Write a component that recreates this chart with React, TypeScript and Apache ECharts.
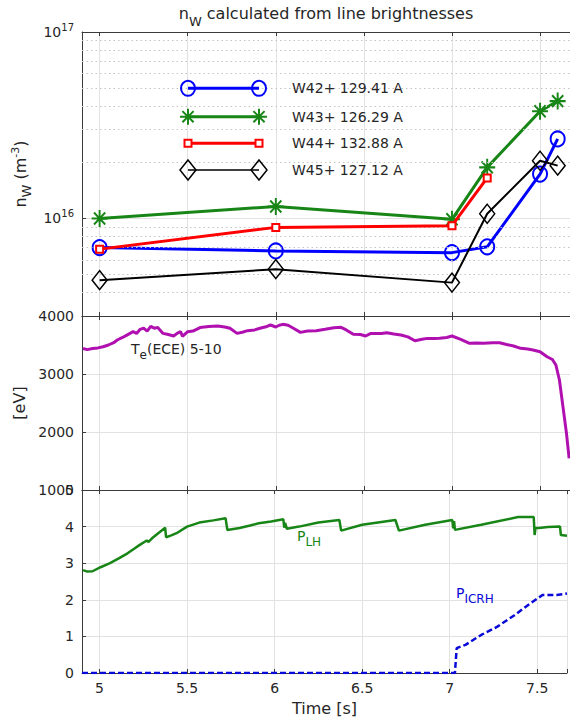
import React, { useEffect, useRef } from 'react';
import * as echarts from 'echarts';

// ---------------- data ----------------
const nwTime = [5.0, 6.0, 7.0, 7.2, 7.5, 7.6];
const nwW42 = [6.98e15, 6.7e15, 6.56e15, 7.05e15, 1.73e16, 2.67e16];
const nwW43 = [1.0e16, 1.16e16, 0.99e16, 1.88e16, 3.76e16, 4.26e16];
const nwW44 = [6.85e15, 8.96e15, 9.15e15, 1.65e16, null, null];
const nwW45 = [4.67e15, 5.35e15, 4.53e15, 1.06e16, 2.04e16, 1.92e16];
const legendLabels = ['W42+ 129.41 A', 'W43+ 126.29 A', 'W44+ 132.88 A', 'W45+ 127.12 A'];
const minorLogGrid = [4e15, 5e15, 6e15, 7e15, 8e15, 9e15, 2e16, 3e16, 4e16, 5e16, 6e16, 7e16, 8e16, 9e16];

const teTime = [4.906, 4.93, 4.96, 4.99, 5.02, 5.05, 5.08, 5.1, 5.13, 5.16, 5.19, 5.21, 5.23, 5.25, 5.27, 5.29, 5.31, 5.33, 5.36, 5.39, 5.42, 5.44, 5.46, 5.47, 5.5, 5.53, 5.57, 5.62, 5.67, 5.71, 5.74, 5.78, 5.81, 5.84, 5.88, 5.91, 5.95, 5.97, 6.0, 6.02, 6.04, 6.07, 6.1, 6.14, 6.18, 6.23, 6.28, 6.33, 6.37, 6.4, 6.44, 6.48, 6.51, 6.54, 6.6, 6.63, 6.67, 6.71, 6.75, 6.79, 6.83, 6.86, 6.9, 6.93, 6.97, 7.0, 7.05, 7.1, 7.14, 7.18, 7.23, 7.27, 7.31, 7.35, 7.39, 7.43, 7.46, 7.5, 7.54, 7.57, 7.59, 7.61, 7.63, 7.65, 7.665];
const teValue = [3440, 3420, 3440, 3450, 3470, 3500, 3540, 3586, 3630, 3680, 3730, 3700, 3770, 3790, 3740, 3820, 3790, 3800, 3700, 3680, 3655, 3700, 3730, 3650, 3730, 3740, 3800, 3820, 3828, 3810, 3788, 3700, 3720, 3747, 3760, 3788, 3820, 3845, 3810, 3840, 3856, 3840, 3788, 3718, 3740, 3747, 3770, 3798, 3805, 3760, 3684, 3680, 3655, 3700, 3700, 3710, 3690, 3672, 3640, 3574, 3600, 3614, 3610, 3615, 3630, 3655, 3598, 3529, 3535, 3530, 3540, 3540, 3510, 3483, 3442, 3430, 3414, 3385, 3298, 3250, 3155, 2897, 2437, 1977, 1546];

const plhTime = [4.906, 4.93, 4.96, 5.006, 5.06, 5.11, 5.16, 5.2, 5.23, 5.27, 5.28, 5.3, 5.33, 5.375, 5.38, 5.41, 5.44, 5.5, 5.57, 5.65, 5.72, 5.73, 5.8, 5.86, 5.91, 5.98, 6.05, 6.055, 6.06, 6.07, 6.14, 6.25, 6.37, 6.38, 6.5, 6.69, 6.71, 6.86, 7.015, 7.02, 7.025, 7.03, 7.18, 7.39, 7.48, 7.485, 7.49, 7.51, 7.56, 7.63, 7.635, 7.67];
const plhValue = [2.81, 2.77, 2.78, 2.89, 3.0, 3.13, 3.27, 3.4, 3.5, 3.62, 3.58, 3.68, 3.8, 3.97, 3.71, 3.76, 3.82, 4.0, 4.11, 4.17, 4.23, 3.91, 3.96, 4.03, 4.09, 4.14, 4.2, 3.97, 4.1, 3.94, 4.0, 4.11, 4.18, 3.89, 4.05, 4.18, 3.89, 4.05, 4.18, 3.95, 4.15, 3.91, 4.05, 4.26, 4.26, 3.77, 3.96, 3.96, 3.99, 4.0, 3.77, 3.75];

const icrhTime = [4.9, 7.03, 7.035, 7.04, 7.09, 7.18, 7.27, 7.37, 7.46, 7.53, 7.61, 7.67];
const icrhValue = [0, 0, 0.35, 0.68, 0.77, 1.04, 1.26, 1.58, 1.9, 2.13, 2.13, 2.17];

// ---------------- styling ----------------
const FONT = 'DejaVu Sans';
const TXT = '#262626';
const AX = '#3a3a3a';
const GRID = '#e2e2e2';
const BLUE = '#0000ff';
const GREEN = '#178617';
const RED = '#ff0000';
const BLACK = '#000000';
const MAGENTA = '#b010b0';
const ICRH = '#0a0ad8';
const X_MIN = 4.9;
const X_MAX = 7.67;
const PLOT_L = 82;
const PLOT_W = 488;

const ASTERISK = 'M0,-8L0,8M-8,0L8,0M-5.6,-5.6L5.6,5.6M-5.6,5.6L5.6,-5.6';
let registered = false;
function registerShapes() {
  if (registered) return;
  registered = true;
  echarts.graphic.registerShape('asterisk', echarts.graphic.extendPath(ASTERISK, {}));
}

const pairs = (t: number[], v: (number | null)[]) =>
  t.map((x, i) => [x, v[i]]).filter((p) => p[1] !== null);

const xFmt = (v: number) => (Math.abs(v * 2 - Math.round(v * 2)) < 1e-6 ? String(+v.toFixed(1)) : '');
const yFmt = (v: number) => String(v);

function xAxis(grid: number, position: 'top' | 'bottom', labels: boolean, name?: string) {
  return {
    type: 'value',
    gridIndex: grid,
    position,
    min: X_MIN,
    max: X_MAX,
    axisLine: { show: true, onZero: false, lineStyle: { color: AX, width: 1 } },
    axisTick: { show: true, inside: true, length: 4, lineStyle: { color: AX } },
    axisLabel: { show: labels, formatter: xFmt, color: TXT, fontSize: 14, fontFamily: FONT, margin: 8 },
    splitLine: { show: position === 'bottom', lineStyle: { color: GRID, width: 1 } },
    name: name || '',
    nameLocation: 'middle',
    nameGap: 27,
    nameTextStyle: { color: TXT, fontSize: 16, fontFamily: FONT },
  };
}

const yBase = {
  axisLine: { show: true, lineStyle: { color: AX, width: 1 } },
  axisTick: { show: true, inside: true, length: 4, lineStyle: { color: AX } },
  splitLine: { show: true, lineStyle: { color: GRID, width: 1 } },
  nameLocation: 'middle',
  nameRotate: 90,
};

const symbolSeries = (name: string, data: any[], color: string, lw: number, symbol: string, size: any, fill: string, bw: number, z: number) => ({
  name,
  type: 'line',
  xAxisIndex: 0,
  yAxisIndex: 0,
  data,
  symbol,
  symbolSize: size,
  showSymbol: true,
  z,
  lineStyle: { color, width: lw },
  itemStyle: { color: fill, borderColor: color, borderWidth: bw },
});

function legendGraphics() {
  const rows = [88.3, 116.7, 143.3, 170];
  const x0 = 188;
  const x1 = 259;
  const els: any[] = [];
  const colors = [BLUE, GREEN, RED, BLACK];
  const widths = [3, 3, 3, 1.6];
  rows.forEach((y, i) => {
    els.push({ type: 'line', shape: { x1: x0, y1: y, x2: x1, y2: y }, style: { stroke: colors[i], lineWidth: widths[i] }, z: 10 });
    [x0, x1].forEach((cx) => {
      if (i === 0) els.push({ type: 'ellipse', shape: { cx, cy: y, rx: 7, ry: 7.5 }, style: { fill: 'none', stroke: BLUE, lineWidth: 2 }, z: 11 });
      if (i === 1) els.push({ type: 'asterisk', x: cx, y, style: { fill: 'none', stroke: GREEN, lineWidth: 2 }, z: 11 });
      if (i === 2) els.push({ type: 'rect', shape: { x: cx - 3.5, y: y - 3.5, width: 7, height: 7 }, style: { fill: '#fff', stroke: RED, lineWidth: 2 }, z: 11 });
      if (i === 3) els.push({ type: 'polygon', shape: { points: [[cx, y - 10], [cx + 8, y], [cx, y + 10], [cx - 8, y]] }, style: { fill: 'none', stroke: BLACK, lineWidth: 1.5 }, z: 11 });
    });
    els.push({ type: 'text', x: 292, y, style: { text: legendLabels[i], fill: TXT, fontSize: 14, fontFamily: FONT, align: 'left', verticalAlign: 'middle' }, z: 11 });
  });
  return els;
}

const richMain = (fs: number) => ({ fontSize: fs, fontFamily: FONT, lineHeight: 18, verticalAlign: 'middle' });
const richSub = (fs: number, drop: number) => ({ fontSize: fs, fontFamily: FONT, lineHeight: 18, verticalAlign: 'middle', padding: [drop * 2, 0, 0, 0] });

function textWithSub(x: number, y: number, main: string, sub: string, rest: string, color: string) {
  return {
    type: 'text',
    x,
    y,
    z: 12,
    style: {
      text: `{m|${main}}{s|${sub}}` + (rest ? `{m|${rest}}` : ''),
      align: 'left',
      verticalAlign: 'middle',
      fill: color,
      rich: {
        m: { ...richMain(14), fill: color },
        s: { ...richSub(12, 6), fill: color },
      },
    },
  };
}

const option: any = {
  animation: false,
  backgroundColor: '#ffffff',
  textStyle: { fontFamily: FONT },
  grid: [
    { left: PLOT_L, top: 32, width: PLOT_W, height: 284 },
    { left: PLOT_L, top: 316, width: PLOT_W, height: 174 },
    { left: PLOT_L, top: 490, width: PLOT_W, height: 183 },
  ],
  xAxis: [
    xAxis(0, 'bottom', false),
    xAxis(0, 'top', false),
    xAxis(1, 'bottom', false),
    xAxis(1, 'top', false),
    xAxis(2, 'bottom', true, 'Time [s]'),
    xAxis(2, 'top', false),
  ],
  yAxis: [
    {
      ...yBase,
      type: 'log',
      logBase: 10,
      gridIndex: 0,
      min: 3e15,
      max: 1e17,
      axisLabel: {
        color: TXT,
        margin: 8,
        formatter: (v: number) => {
          const e = Math.log10(v);
          return Math.abs(e - Math.round(e)) < 1e-6 ? `{b|10}{s|${Math.round(e)}}` : '';
        },
        rich: {
          b: { fontSize: 14, fontFamily: FONT, color: TXT, lineHeight: 18, verticalAlign: 'middle' },
          s: { fontSize: 10, fontFamily: FONT, color: TXT, lineHeight: 18, verticalAlign: 'middle', padding: [0, 0, 9, 0] },
        },
      },
      name: '{m|n}{s|W}{m| (m}{p|-3}{m|)}',
      nameGap: 49,
      nameTextStyle: {
        color: TXT,
        rich: {
          m: { fontSize: 16, fontFamily: FONT, color: TXT, lineHeight: 20, verticalAlign: 'middle' },
          s: { fontSize: 13, fontFamily: FONT, color: TXT, lineHeight: 20, verticalAlign: 'middle', padding: [11, 0, 0, 0] },
          p: { fontSize: 11, fontFamily: FONT, color: TXT, lineHeight: 20, verticalAlign: 'middle', padding: [0, 0, 10, 0] },
        },
      },
    },
    {
      ...yBase,
      type: 'value',
      gridIndex: 1,
      min: 1000,
      max: 4000,
      interval: 1000,
      axisLabel: { color: TXT, fontSize: 14, fontFamily: FONT, margin: 8, formatter: yFmt, showMinLabel: true, showMaxLabel: true },
      name: '[eV]',
      nameGap: 46,
      nameTextStyle: { color: TXT, fontSize: 16, fontFamily: FONT },
    },
    {
      ...yBase,
      type: 'value',
      gridIndex: 2,
      min: 0,
      max: 5,
      interval: 1,
      axisLabel: { color: TXT, fontSize: 14, fontFamily: FONT, margin: 8, formatter: yFmt, showMinLabel: true, showMaxLabel: true },
    },
  ],
  series: [
    {
      type: 'line',
      xAxisIndex: 0,
      yAxisIndex: 0,
      data: [],
      z: 1,
      silent: true,
      markLine: {
        silent: true,
        symbol: ['none', 'none'],
        label: { show: false },
        lineStyle: { color: '#c4c4c4', width: 1, type: [1.5, 3] },
        data: minorLogGrid.map((v) => ({ yAxis: v })),
      },
    },
    symbolSeries('W42', pairs(nwTime, nwW42), BLUE, 3, 'circle', [14, 15], 'rgba(0,0,0,0)', 2, 3),
    symbolSeries('W43', pairs(nwTime, nwW43), GREEN, 3, 'path://' + ASTERISK, [16, 17], 'rgba(0,0,0,0)', 2, 4),
    symbolSeries('W44', pairs(nwTime, nwW44), RED, 3, 'rect', 7, '#ffffff', 2, 5),
    symbolSeries('W45', pairs(nwTime, nwW45), BLACK, 2, 'diamond', [15, 19], 'rgba(0,0,0,0)', 1.5, 6),
    {
      name: 'Te',
      type: 'line',
      xAxisIndex: 2,
      yAxisIndex: 1,
      data: pairs(teTime, teValue),
      showSymbol: false,
      lineStyle: { color: MAGENTA, width: 3 },
      z: 3,
    },
    {
      name: 'PLH',
      type: 'line',
      xAxisIndex: 4,
      yAxisIndex: 2,
      data: pairs(plhTime, plhValue),
      showSymbol: false,
      lineStyle: { color: GREEN, width: 2.5 },
      z: 3,
    },
    {
      name: 'PICRH',
      type: 'line',
      xAxisIndex: 4,
      yAxisIndex: 2,
      data: pairs(icrhTime, icrhValue),
      showSymbol: false,
      lineStyle: { color: ICRH, width: 2.5, type: [6, 3] },
      z: 4,
    },
  ],
  graphic: [
    {
      type: 'text',
      x: 326,
      y: 13,
      z: 12,
      style: {
        text: '{m|n}{s|W}{m| calculated from line brightnesses}',
        align: 'center',
        verticalAlign: 'middle',
        fill: TXT,
        rich: {
          m: { ...richMain(16), fill: TXT },
          s: { ...richSub(13, 8), fill: TXT },
        },
      },
    },
    ...legendGraphics(),
    textWithSub(131, 349, 'T', 'e', '(ECE) 5-10', TXT),
    textWithSub(297, 536, 'P', 'LH', '', GREEN),
    textWithSub(456, 593, 'P', 'ICRH', '', ICRH),
  ],
};

export default function App() {
  const ref = useRef<HTMLDivElement>(null);
  useEffect(() => {
    registerShapes();
    const chart = echarts.init(ref.current as HTMLDivElement, null, { renderer: 'svg' });
    chart.setOption(option);
    return () => chart.dispose();
  }, []);
  return (
    <div
      ref={ref}
      style={{ position: 'absolute', left: 0, top: 0, width: 570, height: 721, background: '#ffffff' }}
    />
  );
}
